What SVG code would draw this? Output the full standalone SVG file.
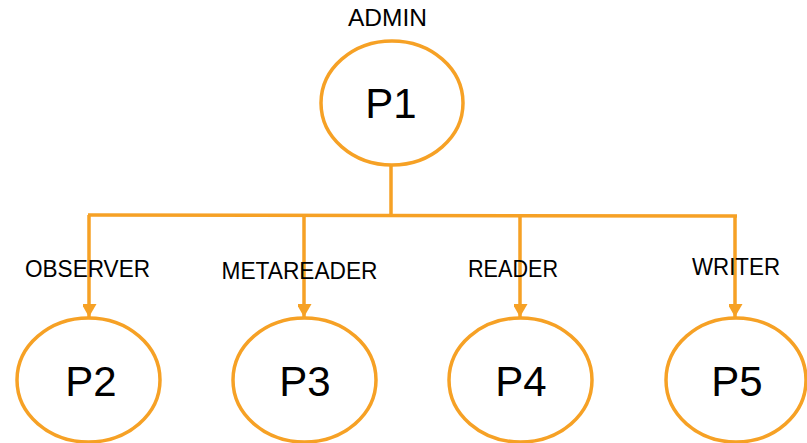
<svg xmlns="http://www.w3.org/2000/svg" width="807" height="443" viewBox="0 0 807 443">
<style>
.node{fill:none;stroke:#F6A125;stroke-width:3.5}
.conn{fill:none;stroke:#F6A125;stroke-width:3.5}
.nt{font-family:"Liberation Sans",Arial,sans-serif;font-size:42px;fill:#000;text-anchor:middle}
.lbl{font-family:"Liberation Sans",Arial,sans-serif;font-size:23px;fill:#000}
</style>
<defs>
<marker id="arr" markerUnits="userSpaceOnUse" markerWidth="16" markerHeight="14" refX="13" refY="7.5" orient="auto">
<path d="M0,0 L13,7.5 L0,15 Z" fill="#F6A125"/>
</marker>
</defs>
<rect width="807" height="443" fill="#fff"/>
<g id="connectors">
<line class="conn" x1="391" y1="165" x2="391" y2="215"/>
<line class="conn" x1="88" y1="215" x2="737" y2="216"/>
<line class="conn" x1="89" y1="215" x2="89" y2="317" marker-end="url(#arr)"/>
<line class="conn" x1="304" y1="215" x2="304" y2="317" marker-end="url(#arr)"/>
<line class="conn" x1="520" y1="216" x2="520" y2="317" marker-end="url(#arr)"/>
<line class="conn" x1="735" y1="216" x2="735" y2="317" marker-end="url(#arr)"/>
</g>
<g id="labels">
<text class="lbl" x="348" y="26" textLength="79" lengthAdjust="spacingAndGlyphs">ADMIN</text>
<text class="lbl" x="25" y="277" textLength="125" lengthAdjust="spacingAndGlyphs">OBSERVER</text>
<text class="lbl" x="221.5" y="279" textLength="156" lengthAdjust="spacingAndGlyphs">METAREADER</text>
<text class="lbl" x="468" y="277" textLength="90" lengthAdjust="spacingAndGlyphs">READER</text>
<text class="lbl" x="692" y="275" textLength="88" lengthAdjust="spacingAndGlyphs">WRITER</text>
</g>
<g id="P1">
<ellipse class="node" cx="392" cy="103" rx="71" ry="62"/>
<text class="nt" x="391" y="118">P1</text>
</g>
<g id="P2">
<ellipse class="node" cx="88.5" cy="380" rx="71.5" ry="62"/>
<text class="nt" x="91" y="396">P2</text>
</g>
<g id="P3">
<ellipse class="node" cx="304.5" cy="380" rx="71.5" ry="62"/>
<text class="nt" x="305" y="396">P3</text>
</g>
<g id="P4">
<ellipse class="node" cx="520.5" cy="380" rx="71.5" ry="62"/>
<text class="nt" x="521" y="396">P4</text>
</g>
<g id="P5">
<ellipse class="node" cx="736" cy="380" rx="70" ry="62"/>
<text class="nt" x="737" y="396">P5</text>
</g>
</svg>
